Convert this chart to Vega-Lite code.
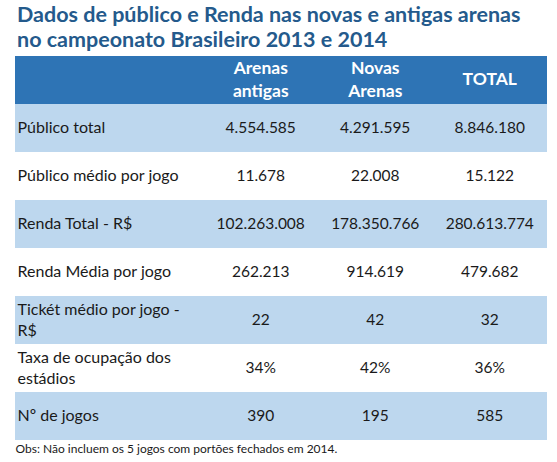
{
  "$schema": "https://vega.github.io/schema/vega-lite/v6.json",
  "width": 557,
  "height": 462,
  "autosize": {"type": "fit", "contains": "padding"},
  "padding": {"left": 15, "right": 10, "top": 4, "bottom": 8},
  "background": "white",
  "config": {"view": {"stroke": null}},
  "title": {
    "text": ["Dados de público e Renda nas novas e antigas arenas", "no campeonato Brasileiro 2013 e 2014"],
    "anchor": "start",
    "frame": "group",
    "font": "Lato",
    "fontSize": 21.5,
    "fontWeight": "bold",
    "color": "#245A8C",
    "lineHeight": 25,
    "offset": 5,
    "dx": 2
  },
  "datasets": {
    "linhas": [
      {"linha": "Público total", "Arenas antigas": "4.554.585", "Novas Arenas": "4.291.595", "TOTAL": "8.846.180"},
      {"linha": "Público médio por jogo", "Arenas antigas": "11.678", "Novas Arenas": "22.008", "TOTAL": "15.122"},
      {"linha": "Renda Total - R$", "Arenas antigas": "102.263.008", "Novas Arenas": "178.350.766", "TOTAL": "280.613.774"},
      {"linha": "Renda Média por jogo", "Arenas antigas": "262.213", "Novas Arenas": "914.619", "TOTAL": "479.682"},
      {"linha": "Tickét médio por jogo -\nR$", "Arenas antigas": "22", "Novas Arenas": "42", "TOTAL": "32"},
      {"linha": "Taxa de ocupação dos\nestádios", "Arenas antigas": "34%", "Novas Arenas": "42%", "TOTAL": "36%"},
      {"linha": "Nº de jogos", "Arenas antigas": "390", "Novas Arenas": "195", "TOTAL": "585"}
    ],
    "faixas": [
      {"linha": "Cabeçalho"},
      {"linha": "Público total"},
      {"linha": "Público médio por jogo"},
      {"linha": "Renda Total - R$"},
      {"linha": "Renda Média por jogo"},
      {"linha": "Tickét médio por jogo -\nR$"},
      {"linha": "Taxa de ocupação dos\nestádios"},
      {"linha": "Nº de jogos"}
    ],
    "cabecalho": [
      {"coluna": "Arenas antigas", "rotulo": "Arenas\nantigas"},
      {"coluna": "Novas Arenas", "rotulo": "Novas\nArenas"},
      {"coluna": "TOTAL", "rotulo": "TOTAL"}
    ]
  },
  "encoding": {
    "y": {
      "field": "linha",
      "type": "nominal",
      "scale": {
        "type": "band",
        "domain": ["Cabeçalho", "Público total", "Público médio por jogo", "Renda Total - R$", "Renda Média por jogo", "Tickét médio por jogo -\nR$", "Taxa de ocupação dos\nestádios", "Nº de jogos"],
        "paddingInner": 0,
        "paddingOuter": 0
      },
      "axis": {
        "title": null,
        "orient": "left",
        "domain": false,
        "ticks": false,
        "tickSize": 0,
        "labelPadding": -2,
        "labelAlign": "left",
        "labelBaseline": "middle",
        "labelFont": "Lato",
        "labelFontSize": 16,
        "labelColor": "#1a1a1a",
        "labelLimit": 0,
        "labelLineHeight": 21,
        "labelOffset": {"condition": {"test": "indexof(datum.value, '\\n') >= 0", "value": -10}, "value": 0},
        "labelExpr": "datum.value == 'Cabeçalho' ? '' : split(datum.value, '\\n')",
        "zindex": 2
      }
    }
  },
  "layer": [
    {
      "data": {"name": "faixas"},
      "mark": {"type": "rect"},
      "encoding": {
        "color": {
          "field": "linha",
          "type": "nominal",
          "legend": null,
          "scale": {
            "domain": ["Cabeçalho", "Público total", "Público médio por jogo", "Renda Total - R$", "Renda Média por jogo", "Tickét médio por jogo -\nR$", "Taxa de ocupação dos\nestádios", "Nº de jogos"],
            "range": ["#2E74B5", "#BDD7EE", "#FFFFFF", "#BDD7EE", "#FFFFFF", "#BDD7EE", "#FFFFFF", "#BDD7EE"]
          }
        }
      }
    },
    {
      "data": {"name": "cabecalho"},
      "mark": {"type": "text", "font": "Lato", "fontSize": 17.5, "fontWeight": "bold", "color": "white", "lineBreak": "\n", "lineHeight": 23, "baseline": "middle", "align": "center",
        "dy": {"expr": "indexof(datum.rotulo, '\\n') >= 0 ? -11.5 : 0"}},
      "encoding": {
        "x": {"field": "coluna", "type": "nominal"},
        "y": {"datum": "Cabeçalho", "type": "nominal"},
        "text": {"field": "rotulo"}
      }
    },
    {
      "data": {"name": "linhas"},
      "transform": [{"fold": ["Arenas antigas", "Novas Arenas", "TOTAL"], "as": ["coluna", "valor"]}],
      "mark": {"type": "text", "font": "Lato", "fontSize": 15.5, "color": "#1a1a1a", "baseline": "middle", "align": "center"},
      "encoding": {
        "x": {
          "field": "coluna",
          "type": "nominal",
          "scale": {"type": "band", "domain": ["Arenas antigas", "Novas Arenas", "TOTAL"], "paddingInner": 0, "paddingOuter": 0.823, "align": 1},
          "axis": {
            "orient": "bottom",
            "labels": false,
            "ticks": false,
            "domain": false,
            "title": "Obs: Não incluem os 5 jogos com portões fechados em 2014.",
            "titleAnchor": "start",
            "titleFont": "Lato",
            "titleFontSize": 12,
            "titleFontWeight": "normal",
            "titleColor": "#1a1a1a",
            "titlePadding": 3
          }
        },
        "text": {"field": "valor"}
      }
    }
  ]
}
